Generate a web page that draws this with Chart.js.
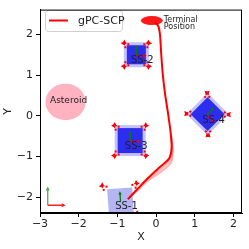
<!DOCTYPE html>
<html>
<head>
<meta charset="utf-8">
<script src="https://cdn.jsdelivr.net/npm/chart.js@4.4.0/dist/chart.umd.min.js"></script>
<style>
  html, body { margin: 0; padding: 0; background: #fff; }
  #wrap { width: 249px; height: 249px; }
</style>
</head>
<body>
<div id="wrap"><canvas id="chart" width="249" height="249"></canvas></div>
<script>
// axis ticks
const xTicks = [-3, -2, -1, 0, 1, 2];
const yTicks = [-2, -1, 0, 1, 2];

// gPC-SCP trajectory (mean) and a couple of spread samples
const trajX = [-0.73, -0.50, -0.24, 0.05, 0.33, 0.40, 0.38, 0.31, 0.23, 0.17, 0.13, 0.10, 0.05, -0.05];
const trajY = [-2.05, -1.82, -1.56, -1.30, -1.06, -0.80, -0.45, 0.05, 0.55, 1.05, 1.55, 2.00, 2.22, 2.30];
const spreadX = [-0.73, -0.48, -0.22, 0.12, 0.38, 0.43, 0.39];
const spreadY = [-2.05, -1.84, -1.60, -1.38, -1.16, -0.90, -0.50];
const spread2X = [-0.24, 0.08, 0.34, 0.42, 0.39];
const spread2Y = [-1.56, -1.34, -1.12, -0.86, -0.48];

// spacecraft
const craftNames = ['SS-1', 'SS-2', 'SS-3', 'SS-4'];
const craftX = [-0.92, -0.51, -0.67, 1.33];
const craftY = [-2.09, 1.50, -0.61, 0.04];
const craftAngle = [-4, 0, 0, 45];

// asteroid and terminal position
const asteroidX = -2.34, asteroidY = 0.34;
const terminalX = -0.11, terminalY = 2.34;
const frameX = -2.80, frameY = -2.20;

Chart.defaults.font.family = 'DejaVu Sans';
Chart.defaults.color = '#222';

function arrow(ctx, x0, y0, x1, y1, color, lw, head) {
  const a = Math.atan2(y1 - y0, x1 - x0);
  ctx.strokeStyle = color; ctx.fillStyle = color; ctx.lineWidth = lw;
  ctx.beginPath(); ctx.moveTo(x0, y0); ctx.lineTo(x1, y1); ctx.stroke();
  ctx.beginPath();
  ctx.moveTo(x1 + Math.cos(a) * head * 0.6, y1 + Math.sin(a) * head * 0.6);
  ctx.lineTo(x1 + Math.cos(a + 2.4) * head, y1 + Math.sin(a + 2.4) * head);
  ctx.lineTo(x1 + Math.cos(a - 2.4) * head, y1 + Math.sin(a - 2.4) * head);
  ctx.closePath(); ctx.fill();
}

const craftStyle = [
  { side: 25, fill: 'rgba(120,120,235,0.55)', halo: false, thr: 9 },
  { side: 19, fill: 'rgb(45,45,240)', halo: true, thr: 5 },
  { side: 25, fill: 'rgb(45,45,240)', halo: true, thr: 6 },
  { side: 24, fill: 'rgb(45,45,240)', halo: true, thr: 6 }
];

function drawCraft(ctx, px, py, ang, st) {
  const h = st.side / 2;
  ctx.save();
  ctx.translate(px, py);
  ctx.rotate(ang * Math.PI / 180);
  if (st.halo) {
    ctx.fillStyle = 'rgba(80,80,255,0.35)';
    ctx.fillRect(-h - 3, -h - 3, st.side + 6, st.side + 6);
  }
  ctx.fillStyle = st.fill;
  ctx.fillRect(-h, -h, st.side, st.side);
  // thrusters at corners
  [[1, 1], [1, -1], [-1, 1], [-1, -1]].forEach(([sx, sy]) => {
    const cx = sx * (h + st.thr * 0.5), cy = sy * (h + st.thr * 0.4);
    arrow(ctx, cx - sx * 2, cy, cx + sx * 2, cy, 'red', 1.3, 2.8);
    arrow(ctx, cx, cy - sy * 2, cx, cy + sy * 2, 'red', 1.3, 2.8);
    ctx.fillStyle = 'red';
    ctx.fillRect(cx - sx * 4 - 1, cy - sy * 1 - 1, 2, 2);
    ctx.fillRect(cx - sx * 1 - 1, cy - sy * 4 - 1, 2, 2);
  });
  // body axes
  arrow(ctx, 0, 1, 0, -8, 'green', 1.3, 2.5);
  if (st.halo) arrow(ctx, 0, 1, 9, 1, 'red', 1.3, 2.5);
  ctx.restore();
}

const scenePlugin = {
  id: 'scene',
  beforeDatasetsDraw(chart) {
    const { ctx, chartArea: a, scales: { x, y } } = chart;
    ctx.save();
    ctx.beginPath(); ctx.rect(a.left, a.top, a.right - a.left, a.bottom - a.top); ctx.clip();
    // asteroid
    const ax = x.getPixelForValue(asteroidX), ay = y.getPixelForValue(asteroidY);
    ctx.fillStyle = 'rgba(255,170,185,0.9)';
    ctx.beginPath();
    ctx.ellipse(ax, ay, Math.abs(x.getPixelForValue(asteroidX + 0.52) - ax), Math.abs(y.getPixelForValue(asteroidY + 0.45) - ay), 0, 0, Math.PI * 2);
    ctx.fill();
    // inertial frame
    const fx = x.getPixelForValue(frameX), fy = y.getPixelForValue(frameY);
    arrow(ctx, fx, fy, fx, y.getPixelForValue(frameY + 0.42), '#4caf50', 1.3, 3);
    arrow(ctx, fx, fy, x.getPixelForValue(frameX + 0.42), fy, '#ff2020', 1.3, 3);
    // spacecraft
    craftNames.forEach((n, i) => {
      drawCraft(ctx, x.getPixelForValue(craftX[i]), y.getPixelForValue(craftY[i]), craftAngle[i], craftStyle[i]);
    });
    ctx.restore();
  },
  afterDatasetsDraw(chart) {
    const { ctx, chartArea: a, scales: { x, y } } = chart;
    ctx.save();
    // terminal blob
    const tx = x.getPixelForValue(terminalX), ty = y.getPixelForValue(terminalY);
    ctx.fillStyle = 'rgba(255,0,0,0.9)';
    ctx.beginPath(); ctx.ellipse(tx, ty, 11, 4.5, 0, 0, Math.PI * 2); ctx.fill();
    ctx.fillStyle = '#222';
    ctx.font = '8px DejaVu Sans';
    ctx.textAlign = 'left'; ctx.textBaseline = 'middle';
    ctx.fillText('Terminal', tx + 12, ty - 1);
    ctx.fillText('Position', tx + 12, ty + 6);
    // labels
    ctx.font = '10px DejaVu Sans';
    ctx.textAlign = 'center';
    craftNames.forEach((n, i) => {
      ctx.fillText(n, x.getPixelForValue(craftX[i]) + 6, y.getPixelForValue(craftY[i]) + 6);
    });
    ctx.font = '9px DejaVu Sans';
    ctx.fillText('Asteroid', x.getPixelForValue(asteroidX) + 3, y.getPixelForValue(asteroidY) - 1);
    // legend
    ctx.fillStyle = 'rgba(255,255,255,0.85)';
    ctx.strokeStyle = '#d0d0d0'; ctx.lineWidth = 1;
    ctx.beginPath(); ctx.roundRect(45.5, 10.5, 77, 21, 3); ctx.fill(); ctx.stroke();
    ctx.strokeStyle = 'red'; ctx.lineWidth = 2;
    ctx.beginPath(); ctx.moveTo(49, 20.5); ctx.lineTo(68, 20.5); ctx.stroke();
    ctx.fillStyle = '#222'; ctx.font = '11px DejaVu Sans'; ctx.textAlign = 'left';
    ctx.fillText(chart.data.datasets[0].label, 78, 21);
    // frame
    ctx.strokeStyle = '#000'; ctx.lineWidth = 1;
    ctx.strokeRect(a.left + 0.5, a.top + 0.5, a.right - a.left - 1, a.bottom - a.top - 1);
    ctx.restore();
  }
};

const minus = v => String(v).replace('-', '\u2212');
const pts = (xs, ys) => xs.map((v, i) => ({ x: v, y: ys[i] }));

new Chart(document.getElementById('chart'), {
  type: 'scatter',
  data: {
    datasets: [
      {
        label: 'gPC-SCP',
        data: pts(trajX, trajY),
        showLine: true, borderColor: 'red', borderWidth: 2, pointRadius: 0, tension: 0.25
      },
      {
        label: 'spread',
        data: pts(spreadX, spreadY),
        showLine: true, borderColor: 'rgba(255,0,0,0.3)', borderWidth: 2, pointRadius: 0, tension: 0.3
      },
      {
        label: 'spread',
        data: pts(spread2X, spread2Y),
        showLine: true, borderColor: 'rgba(255,0,0,0.3)', borderWidth: 2, pointRadius: 0, tension: 0.3
      }
    ]
  },
  options: {
    responsive: false,
    animation: false,
    layout: { padding: { top: 7, right: 7, left: 0, bottom: 5 } },
    plugins: { legend: { display: false }, tooltip: { enabled: false } },
    scales: {
      x: {
        type: 'linear', min: -3, max: 2.22,
        afterBuildTicks: s => { s.ticks = xTicks.map(v => ({ value: v })); },
        afterFit: s => { s.height = 31; },
        ticks: { includeBounds: false, padding: 1, color: '#222', font: { size: 11 }, maxRotation: 0, callback: minus },
        grid: { drawOnChartArea: false, drawTicks: true, tickLength: 4, color: '#000' },
        border: { color: '#000' },
        title: { display: true, text: 'X', color: '#222', font: { size: 11 }, padding: { top: 0, bottom: 0 } }
      },
      y: {
        type: 'linear', min: -2.39, max: 2.61,
        afterBuildTicks: s => { s.ticks = yTicks.map(v => ({ value: v })); },
        afterFit: s => { s.width = 40; },
        ticks: { includeBounds: false, padding: 3, color: '#222', font: { size: 11 }, callback: minus },
        grid: { drawOnChartArea: false, drawTicks: true, tickLength: 4, color: '#000' },
        border: { color: '#000' },
        title: { display: true, text: 'Y', color: '#222', font: { size: 11 }, padding: { top: 2, bottom: 0 } }
      }
    }
  },
  plugins: [scenePlugin]
});
</script>
</body>
</html>
